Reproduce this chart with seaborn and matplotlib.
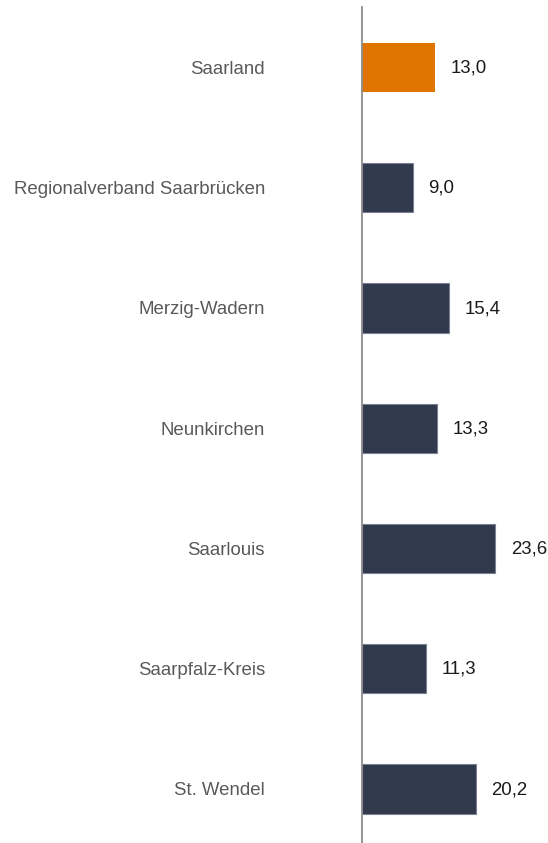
import matplotlib
matplotlib.use("Agg")
import matplotlib.pyplot as plt
import seaborn as sns
import pandas as pd

categories = ["Saarland", "Regionalverband Saarbrücken", "Merzig-Wadern",
              "Neunkirchen", "Saarlouis", "Saarpfalz-Kreis", "St. Wendel"]
values = [13.0, 9.0, 15.4, 13.3, 23.6, 11.3, 20.2]
colors = ["#E07400", "#31394D", "#31394D", "#31394D", "#31394D", "#31394D", "#31394D"]

sns.set_theme(style="white")
plt.rcParams["font.family"] = ["Liberation Sans", "DejaVu Sans"]

W, H = 548, 843
fig = plt.figure(figsize=(W / 100, H / 100), dpi=100)
# axes: left edge at the value-axis line, spanning to the right border
ax_left, ax_top, ax_bottom = 362, 7, 843
ax = fig.add_axes([ax_left / W, 1 - ax_bottom / H, (W - ax_left) / W, (ax_bottom - ax_top) / H])

df = pd.DataFrame({"region": categories, "value": values})
sns.barplot(data=df, x="value", y="region", hue="region", palette=colors,
            orient="h", width=0.41, saturation=1, legend=False, ax=ax)
for p, c in zip(ax.patches, colors):
    if c == "#31394D":
        p.set_edgecolor("#7A8092")
        p.set_linewidth(0.8)
    else:
        p.set_edgecolor(c)
        p.set_linewidth(0)

px_per_unit = 5.645
ax.set_xlim(0, (W - ax_left) / px_per_unit)
spacing = 120.25
first_center = 67.5
top_units = (first_center - ax_top) / spacing
height_units = (ax_bottom - ax_top) / spacing
ax.set_ylim(height_units - top_units, -top_units)

for i, v in enumerate(values):
    ax.text(v + 15.5 / px_per_unit, i + 0.006, f"{v:.1f}".replace(".", ","),
            va="center", ha="left", fontsize=13.4, color="#1A1A1A")

ax.set_xlabel("")
ax.set_ylabel("")
ax.set_xticks([])
# tick label pad is in points: 97 px at 100 dpi
ax.tick_params(axis="y", length=0, pad=97 * 0.72, labelsize=13.4, labelcolor="#595959")
for s in ["top", "right", "bottom"]:
    ax.spines[s].set_visible(False)
ax.spines["left"].set_color("#8C8C8C")
ax.spines["left"].set_linewidth(1.3)

fig.savefig("out.png", dpi=100)
